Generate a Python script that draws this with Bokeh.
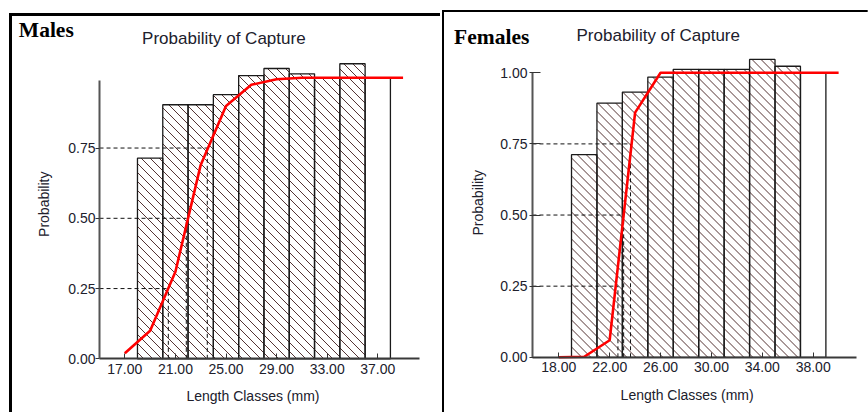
import math
from bokeh.plotting import figure
from bokeh.layouts import row
from bokeh.models import Range1d, FixedTicker, PrintfTickFormatter, Label, ColumnDataSource
from bokeh.embed import file_html
from bokeh.resources import INLINE

CLASS_WIDTH = 2
QUANTILES = [0.25, 0.50, 0.75]

# ---------------- Males ----------------
male_lower = [18, 20, 22, 24, 26, 28, 30, 32, 34, 36]
male_prob = [0.714, 0.904, 0.904, 0.940, 1.008, 1.033, 1.014, 1.000, 1.050, 1.000]
male_hatched = [True, True, True, True, True, True, True, True, True, False]
male_curve_len = [17, 19, 21, 23, 25, 27, 29, 31, 33, 35, 37, 39]
male_curve_prob = [0.02, 0.10, 0.31, 0.69, 0.90, 0.975, 0.995, 1.0, 1.0, 1.0, 1.0, 1.0]
male_lq = [20.44, 21.86, 23.52]
male_xticks = [17, 21, 25, 29, 33, 37]
male_yticks = [0.0, 0.25, 0.50, 0.75]

# ---------------- Females ----------------
female_lower = [19, 21, 23, 25, 27, 29, 31, 33, 35, 37]
female_prob = [0.712, 0.893, 0.932, 0.985, 1.012, 1.012, 1.012, 1.047, 1.023, 1.000]
female_hatched = [True, True, True, True, True, True, True, True, True, False]
female_curve_len = [18, 20, 22, 24, 26, 28, 30, 32, 34, 36, 38, 40]
female_curve_prob = [0.0, 0.002, 0.06, 0.86, 1.0, 1.0, 1.0, 1.0, 1.0, 1.0, 1.0, 1.0]
female_lq = [22.65, 23.10, 23.64]
female_xticks = [18, 22, 26, 30, 34, 38]
female_yticks = [0.0, 0.25, 0.50, 0.75, 1.00]

TITLE = "Probability of Capture"
XLABEL = "Length Classes (mm)"
YLABEL = "Probability"

SANS = "Liberation Sans"
SERIF = "Liberation Serif"
TXT = "#20202c"
H = 412
HATCH_SPACING = 9  # px, horizontal distance between 45-degree hatch lines


def hatch_lines(lower, prob, hatched, xr, yr, width):
    """45-degree '\\' hatch lines clipped to each hatched bar (screen-aligned)."""
    px = width / (xr[1] - xr[0])
    py = H / (yr[1] - yr[0])
    xs, ys = [], []
    for lo, top, h in zip(lower, prob, hatched):
        if not h:
            continue
        u0, u1 = lo * px, (lo + CLASS_WIDTH) * px
        v0, v1 = 0.0, top * py
        k0 = math.ceil((u0 + v0) / HATCH_SPACING)
        k1 = math.floor((u1 + v1) / HATCH_SPACING)
        for k in range(k0, k1 + 1):
            c = k * HATCH_SPACING
            a = max(u0, c - v1)
            b = min(u1, c - v0)
            if b <= a:
                continue
            xs.append([a / px, b / px])
            ys.append([(c - a) / py, (c - b) / py])
    return xs, ys


def panel(lower, prob, hatched, cx, cp, lq, xticks, yticks, name, *, width,
          xr, yr, xbounds, ytop, tick_out, tick_in, y_standoff, styles, pos):
    p = figure(width=width, height=H, x_range=Range1d(*xr), y_range=Range1d(*yr),
               output_backend="svg", toolbar_location=None,
               min_border_left=0, min_border_right=0, min_border_top=0, min_border_bottom=0,
               border_fill_color=None, background_fill_color=None,
               outline_line_color=None, styles=styles)
    p.grid.visible = False

    src = ColumnDataSource(dict(
        left=lower,
        right=[v + CLASS_WIDTH for v in lower],
        top=prob,
        bottom=[0] * len(lower),
    ))
    p.quad(left="left", right="right", top="top", bottom="bottom", source=src,
           fill_color="white", line_color=None)
    hx, hy = hatch_lines(lower, prob, hatched, xr, yr, width)
    p.multi_line(hx, hy, line_color="#553434", line_width=1)
    p.quad(left="left", right="right", top="top", bottom="bottom", source=src,
           fill_color=None, line_color="#1a1a1a", line_width=1.3)

    p.segment(x0=[xbounds[0]] * len(lq), y0=QUANTILES, x1=lq, y1=QUANTILES,
              line_color="#111111", line_dash="4 3", line_width=1)
    p.segment(x0=lq, y0=[0] * len(lq), x1=lq, y1=QUANTILES,
              line_color="#111111", line_dash="4 3", line_width=1)

    p.line(cx, cp, line_color="#ff0000", line_width=2.6)

    xa = p.xaxis[0]
    xa.fixed_location = 0
    xa.bounds = xbounds
    xa.ticker = FixedTicker(ticks=xticks)
    xa.formatter = PrintfTickFormatter(format="%.2f")
    xa.major_tick_in = 5
    xa.major_tick_out = 0
    xa.minor_tick_line_color = None
    xa.axis_line_width = 2
    xa.axis_line_color = "#3a3a3a"
    xa.major_tick_line_color = "#333333"
    xa.major_label_text_font = SANS
    xa.major_label_text_font_size = "14px"
    xa.major_label_text_color = TXT
    xa.major_label_standoff = 5

    ya = p.yaxis[0]
    ya.fixed_location = xbounds[0]
    ya.ticker = FixedTicker(ticks=yticks)
    ya.formatter = PrintfTickFormatter(format="%.2f")
    ya.bounds = (0, ytop)
    ya.major_tick_in = tick_in
    ya.major_tick_out = tick_out
    ya.minor_tick_line_color = None
    ya.axis_line_width = 2
    ya.axis_line_color = "#555555"
    ya.major_tick_line_color = "#333333"
    ya.major_label_text_font = SANS
    ya.major_label_text_font_size = "14px"
    ya.major_label_text_color = TXT
    ya.major_label_standoff = y_standoff

    p.add_layout(Label(x=pos["title"][0], y=pos["title"][1], text=TITLE,
                       text_font=SANS, text_font_size="17px", text_color=TXT,
                       text_align="center", text_baseline="alphabetic"))
    p.add_layout(Label(x=pos["name"][0], y=pos["name"][1], text=name,
                       text_font=SERIF, text_font_size="21.5px", text_font_style="bold",
                       text_color="#000000", text_align="left", text_baseline="alphabetic"))
    p.add_layout(Label(x=pos["ylab"][0], y=pos["ylab"][1], text=YLABEL, angle=math.pi / 2,
                       text_font=SANS, text_font_size="14px", text_color=TXT,
                       text_align="center", text_baseline="middle"))
    p.add_layout(Label(x=pos["xlab"][0], y=pos["xlab"][1], text=XLABEL,
                       text_font=SANS, text_font_size="14px", text_color=TXT,
                       text_align="center", text_baseline="alphabetic"))
    return p


left_styles = {"background": "linear-gradient(#000,#000) 9px 12.5px / 3px calc(100% - 12.5px) no-repeat, "
                             "linear-gradient(#000,#000) 9px 12.5px / calc(100% - 9px) 3px no-repeat"}
right_styles = {"background": "linear-gradient(#000,#000) 2.3px 10px / 2px calc(100% - 10px) no-repeat, "
                              "linear-gradient(#000,#000) 2.3px 10px / calc(100% - 2.3px) 2px no-repeat"}

pm = panel(male_lower, male_prob, male_hatched, male_curve_len, male_curve_prob, male_lq,
           male_xticks, male_yticks, "Males",
           width=440, xr=(7.17, 41.96), yr=(-0.191, 1.275), xbounds=(15.0, 40.3), ytop=0.99,
           tick_out=4, tick_in=0, y_standoff=0, styles=left_styles,
           pos=dict(title=(24.83, 1.139), name=(8.62, 1.170), ylab=(10.57, 0.55), xlab=(27.13, -0.133)))

pf = panel(female_lower, female_prob, female_hatched, female_curve_len, female_curve_prob, female_lq,
           female_xticks, female_yticks, "Females",
           width=428, xr=(8.70, 42.35), yr=(-0.194, 1.254), xbounds=(15.93, 41.4), ytop=1.001,
           tick_out=3, tick_in=8, y_standoff=2, styles=right_styles,
           pos=dict(title=(25.82, 1.130), name=(9.77, 1.126), ylab=(11.67, 0.543), xlab=(28.09, -0.133)))

layout = row(pm, pf, spacing=0)
open("out.html", "w").write(file_html(layout, INLINE))
